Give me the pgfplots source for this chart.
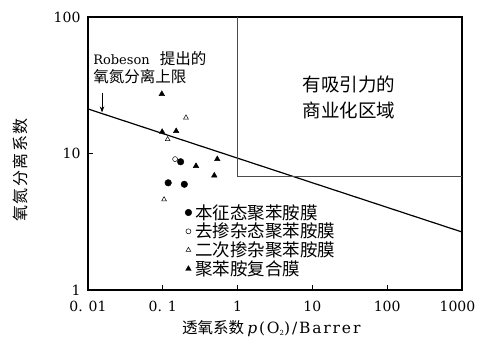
\documentclass[border=0pt]{standalone}
\usepackage{pgfplots}
\pgfplotsset{compat=1.18}
\usetikzlibrary{arrows.meta}
\usepackage{fontspec}
\setmainfont{DejaVu Serif}
\newfontfamily\cjk{Noto Sans CJK SC}
\newfontfamily\widelatin[LetterSpace=12]{DejaVu Serif}
\begin{document}
\begin{tikzpicture}
\useasboundingbox (-88pt,-54pt) rectangle (390pt,290pt);
\begin{axis}[
  at={(0,0)}, anchor=south west,
  scale only axis, width=374pt, height=273pt,
  xmode=log, ymode=log,
  xmin=0.01, xmax=1000, ymin=1, ymax=100,
  axis line style={line width=1.2pt},
  tick align=inside, tick pos=left,
  major tick length=5pt,
  every tick/.style={line width=1.1pt, black},
  xtick={0.01,0.1,1,10,100,1000},
  xticklabels={0. 01,0. 1,1,10,100,\hspace{-9pt}1000},
  ytick={1,10,100},
  yticklabels={1,10,100},
  xminorticks=false, yminorticks=false,
  ticklabel style={font=\fontsize{14}{16}\selectfont},
  xticklabel style={yshift=-8pt},
  yticklabel style={xshift=-4pt},
  xlabel={{\cjk\fontsize{15.5}{16}\selectfont 透氧系数} {\widelatin\fontsize{15.5}{16}\selectfont\textit{p}(O\raisebox{-2pt}{\fontsize{7}{8}\selectfont 2})/Barrer}},
  xlabel style={at={(rel axis cs:0.49,-0.143)}, anchor=center},
  ylabel={\cjk\fontsize{16}{16}\selectfont 氧\kern1.5pt 氮\kern1.5pt 分\kern1.5pt 离\kern1.5pt 系\kern1.5pt 数},
  ylabel style={at={(rel axis cs:-0.182,0.44)}, anchor=center},
  legend style={draw=none, fill=none, at={(rel axis cs:0.258,0.318)}, anchor=north west,
    inner sep=0pt, row sep=0.5pt, font=\cjk\fontsize{17.5}{18}\selectfont,
    nodes={inner sep=1pt}},
  legend cell align=left,
  legend image code/.code={\path (0pt,-4pt) (9pt,4pt); \draw[#1] plot coordinates {(3.5pt,0pt)};},
]
% Robeson upper bound
\addplot[black, line width=1.2pt, forget plot] coordinates {(0.01,21.2) (1000,2.66)};
% commercially attractive region
\addplot[black!70, line width=0.8pt, forget plot] coordinates {(1,100) (1,6.76) (1000,6.76)};
% intrinsic PANI
\addplot[only marks, mark=*, mark size=3.3pt, black] coordinates {
 (0.173,8.7) (0.118,6.1) (0.194,5.95)};
\addlegendentry{本征态聚苯胺膜}
% dedoped PANI
\addplot[only marks, mark=o, mark size=2.5pt, black, line width=0.5pt] coordinates {
 (0.146,9.1)};
\addlegendentry{去掺杂态聚苯胺膜}
% redoped PANI
\addplot[only marks, mark=triangle, mark size=2.8pt, black, line width=0.5pt] coordinates {
 (0.204,18.3) (0.116,12.7) (0.104,4.6)};
\addlegendentry{二次掺杂聚苯胺膜}
% composite
\addplot[only marks, mark=triangle*, mark size=3.2pt, black] coordinates {
 (0.097,27.3) (0.098,14.4) (0.151,14.6) (0.278,8.1) (0.535,9.1) (0.488,6.9)};
\addlegendentry{聚苯胺复合膜}
% annotations
\node[anchor=west, inner sep=0pt, font=\fontsize{13}{15}\selectfont] at (axis cs:0.0117,49.3) {Robeson\hspace{10pt}{\cjk\fontsize{15.5}{16}\selectfont 提出的}};
\node[anchor=west, inner sep=0pt, font=\cjk\fontsize{15.5}{16}\selectfont] at (axis cs:0.0117,36.3) {氧氮分离上限};
\draw[-{Stealth[length=6pt,width=4.5pt]}, line width=0.9pt] (axis cs:0.0154,27.8) -- (axis cs:0.0154,20);
\node[inner sep=0pt, font=\cjk\fontsize{18.5}{18}\selectfont] at (axis cs:30.9,32.3) {有吸引力的};
\node[inner sep=0pt, font=\cjk\fontsize{18.5}{18}\selectfont] at (axis cs:30.9,20.8) {商业化区域};
\end{axis}
\end{tikzpicture}
\end{document}
